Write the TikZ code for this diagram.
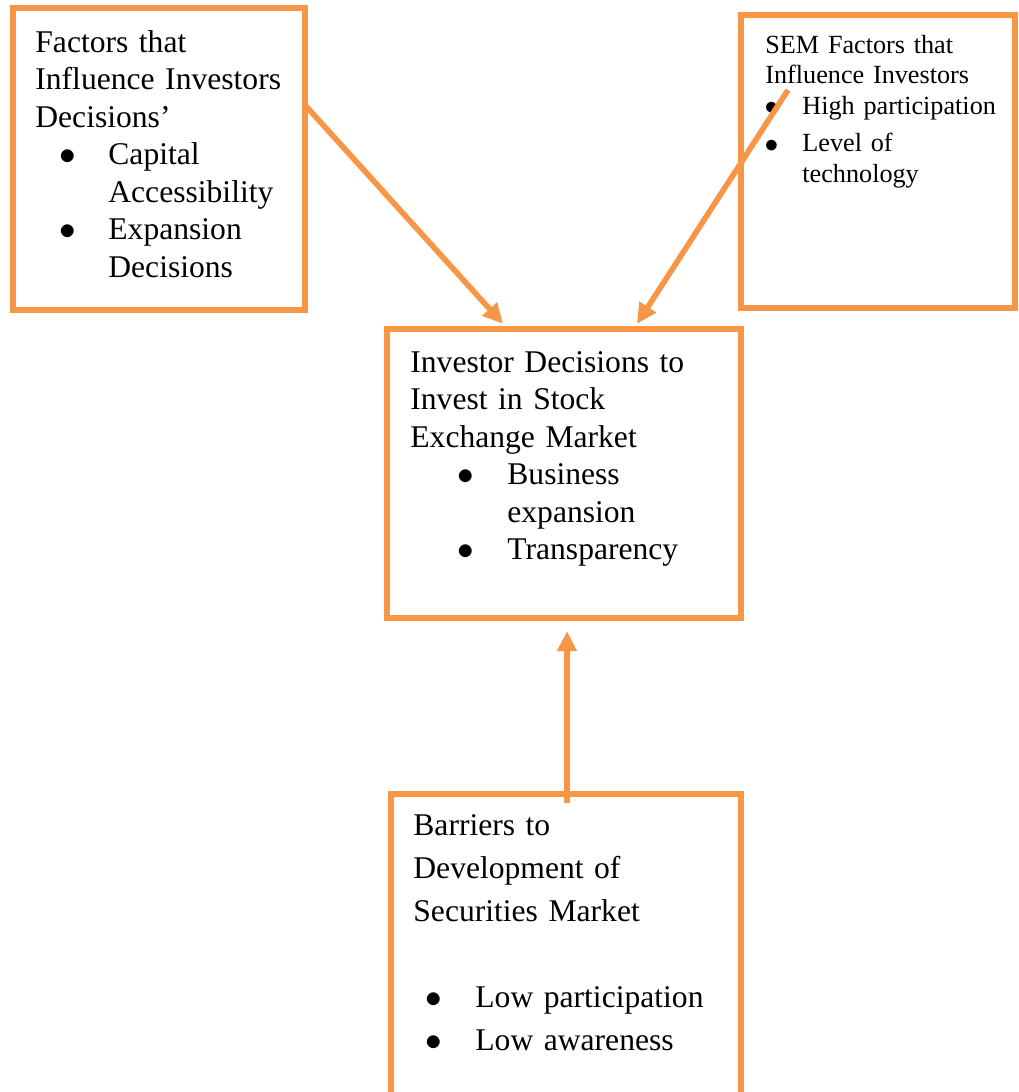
\documentclass[tikz,border=0pt]{standalone}
\usepackage{fontspec}
\setmainfont{Liberation Serif}
\usetikzlibrary{arrows.meta, positioning, calc}
\definecolor{boxorange}{HTML}{F79646}
% bullet at #1 from the left margin, item text #2 further on
\newcommand{\bitem}[2]{\hspace*{#1}\makebox[0pt]{\scalebox{1.15}{$\bullet$}}\hspace*{#2}}

\begin{document}
\begin{tikzpicture}[x=0.5pt, y=-0.5pt,
    box/.style={draw=boxorange, line width=3.2pt, inner sep=0pt},
    txt/.style={inner sep=0pt, align=left, anchor=base west},
    link/.style={draw=boxorange, line width=2.8pt, -{Triangle[width=9.5pt, length=10pt]}}]
    \useasboundingbox (0,0) rectangle (1018,1092);
    % boxes
    \node[box, minimum width=146pt, minimum height=151pt] (fac) at (159,159) {};
    \node[box, minimum width=137pt, minimum height=146.5pt] (sem) at (878,161.5) {};
    \node[box, minimum width=177pt, minimum height=144.5pt] (inv) at (564,473.5) {};
    \node[box, minimum width=175pt, minimum height=153pt] (bar) at (566,947) {};
    % texts
    \node[txt, text width=135pt, font=\fontsize{15.8}{18.75}\selectfont] (factxt) at (35,52)
        {Factors that\\
         Influence Investors\\
         Decisions'\\
         \bitem{16pt}{20.5pt}Capital\\
         \hspace*{36.5pt}Accessibility\\
         \bitem{16pt}{20.5pt}Expansion\\
         \hspace*{36.5pt}Decisions};
    \node[txt, text width=124pt, font=\fontsize{13.1}{15.5}\selectfont] (semtxt) at (765,53)
        {SEM Factors that\\
         Influence Investors\\
         \bitem{3pt}{15.5pt}High participation\\[3pt]
         \bitem{3pt}{15.5pt}Level of\\
         \hspace*{18.5pt}technology};
    \node[txt, text width=165pt, font=\fontsize{15.8}{18.75}\selectfont] (invtxt) at (410,372)
        {Investor Decisions to\\
         Invest in Stock\\
         Exchange Market\\
         \bitem{27.5pt}{21pt}Business\\
         \hspace*{48.5pt}expansion\\
         \bitem{27.5pt}{21pt}Transparency};
    \node[txt, text width=164pt, font=\fontsize{15.8}{21.5}\selectfont] (bartxt) at (413,835)
        {Barriers to\\
         Development of\\
         Securities Market\\[21.5pt]
         \bitem{10pt}{21pt}Low participation\\
         \bitem{10pt}{21pt}Low awareness};
    % arrows
    \coordinate (facout) at (305,105);
    \coordinate (semout) at (788,90);
    \coordinate (barout) at (567,803);
    \draw[link] (facout) -- ([xshift=-30.5pt, yshift=1pt]inv.north);
    \draw[link] (semout) -- ([xshift=36.5pt, yshift=1pt]inv.north);
    \draw[link] (barout) -- ([xshift=1.5pt, yshift=-5pt]inv.south);
\end{tikzpicture}
\end{document}
